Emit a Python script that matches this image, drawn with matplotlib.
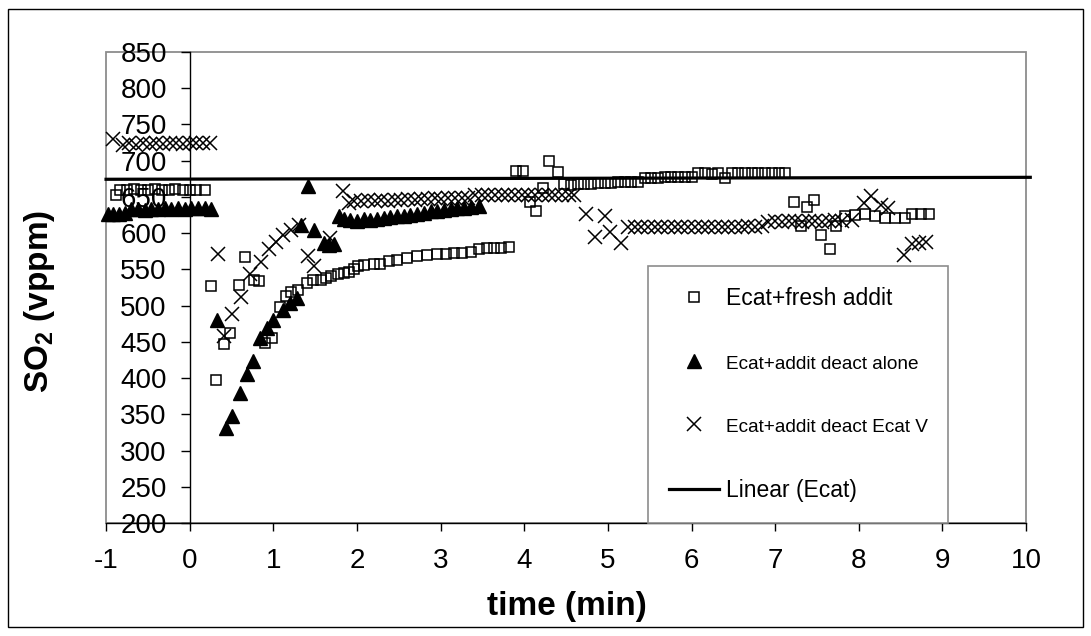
import matplotlib
matplotlib.use("Agg")
import matplotlib.pyplot as plt
from matplotlib.patches import Rectangle

plt.rcParams['font.family'] = ['Liberation Sans', 'DejaVu Sans']
plt.rcParams['mathtext.fontset'] = 'custom'
plt.rcParams['mathtext.rm'] = 'Liberation Sans'
plt.rcParams['mathtext.bf'] = 'Liberation Sans:bold'

# Ecat + fresh additive (open squares)
fresh_t = [-0.88, -0.83, -0.75, -0.67, -0.58, -0.50, -0.42, -0.33, -0.25, -0.17, -0.08, 0.00, 0.08, 0.18,
           0.25, 0.32, 0.41, 0.48, 0.59, 0.66, 0.77, 0.83, 0.90, 0.99, 1.08, 1.15, 1.21, 1.29, 1.40,
           1.47, 1.57, 1.63, 1.69, 1.77, 1.85, 1.91, 1.97, 2.01, 2.09, 2.20, 2.28, 2.38, 2.48, 2.60,
           2.72, 2.84, 2.96, 3.06, 3.16, 3.26, 3.36, 3.46, 3.56, 3.64, 3.72, 3.82,
           3.90, 3.99, 4.07, 4.14, 4.22, 4.30, 4.40, 4.48, 4.56, 4.64, 4.72, 4.80, 4.88, 4.96, 5.04,
           5.12, 5.20, 5.28, 5.36, 5.44, 5.52, 5.60, 5.68, 5.76, 5.84, 5.92, 6.00, 6.08, 6.16, 6.24,
           6.32, 6.40, 6.48, 6.56, 6.64, 6.72, 6.80, 6.88, 6.96, 7.04, 7.12,
           7.23, 7.31, 7.38, 7.47, 7.55, 7.65, 7.73, 7.83, 7.95, 8.07, 8.19, 8.31, 8.43, 8.55,
           8.64, 8.74, 8.84]
fresh_so2 = [652, 660, 660, 661, 660, 660, 661, 660, 660, 661, 660, 660, 660, 660,
             527, 398, 447, 462, 529, 567, 535, 534, 449, 455, 498, 513, 519, 522, 531,
             535, 535, 538, 541, 544, 545, 547, 550, 554, 556, 557, 558, 561, 563, 565,
             568, 570, 571, 571, 572, 573, 574, 578, 579, 579, 579, 581,
             686, 686, 643, 630, 662, 700, 684, 668, 667, 668, 668, 668, 669, 669, 669,
             670, 670, 671, 671, 676, 676, 676, 677, 677, 678, 677, 678, 683, 683, 682,
             683, 676, 683, 683, 683, 683, 683, 683, 683, 683, 683,
             643, 610, 636, 646, 598, 578, 610, 623, 625, 627, 623, 621, 621, 621,
             627, 627, 627]

# Ecat + deactivated additive alone (filled triangles)
alone_t = [-0.98, -0.92, -0.85, -0.77, -0.70, -0.62, -0.54, -0.46, -0.38, -0.30, -0.22, -0.14, -0.06,
           0.02, 0.10, 0.18, 0.25,
           0.33, 0.43, 0.51, 0.60, 0.69, 0.76, 0.84, 0.93, 1.00, 1.11, 1.20, 1.28, 1.33, 1.41, 1.49,
           1.61, 1.67, 1.72, 1.78, 1.85, 1.92, 2.00, 2.08, 2.16, 2.24, 2.32, 2.40, 2.48, 2.56, 2.64,
           2.72, 2.80, 2.88, 2.96, 3.04, 3.12, 3.20, 3.28, 3.36, 3.46]
alone_so2 = [626, 627, 626, 628, 633, 633, 632, 633, 633, 634, 633, 634, 633,
             634, 635, 634, 633,
             480, 331, 347, 379, 406, 423, 455, 469, 480, 494, 503, 510, 611, 665, 604,
             586, 584, 585, 624, 620, 618, 617, 619, 618, 620, 621, 622, 623, 623, 625,
             627, 628, 630, 631, 632, 633, 634, 635, 636, 638]

# Ecat + deactivated additive, Ecat V (crosses)
ecatv_t = [-0.92, -0.80, -0.72, -0.64, -0.56, -0.48, -0.40, -0.32, -0.24, -0.16, -0.08, 0.00, 0.08,
           0.16, 0.24,
           0.34, 0.41, 0.50, 0.61, 0.72, 0.85, 0.95, 1.03, 1.12, 1.21, 1.31, 1.41, 1.49, 1.68, 1.83,
           1.90, 1.97, 2.05, 2.13, 2.21, 2.29, 2.37, 2.45, 2.53, 2.61, 2.69, 2.77, 2.85, 2.93, 3.01,
           3.09, 3.17, 3.25, 3.33, 3.41, 3.49, 3.57, 3.65, 3.73, 3.81, 3.89, 3.97, 4.05, 4.13, 4.21,
           4.29, 4.37, 4.45, 4.53, 4.60,
           4.74, 4.84, 4.96, 5.02, 5.16, 5.24, 5.32, 5.40, 5.48, 5.56, 5.64, 5.72, 5.80, 5.88, 5.96,
           6.04, 6.12, 6.20, 6.28, 6.36, 6.44, 6.52, 6.60, 6.68, 6.76, 6.84, 6.92, 7.00, 7.08, 7.16,
           7.24, 7.32, 7.40, 7.48, 7.56, 7.64, 7.72, 7.80, 7.92,
           8.06, 8.15, 8.27, 8.35, 8.54, 8.64, 8.72, 8.80]
ecatv_so2 = [730, 721, 724, 722, 724, 723, 724, 723, 724, 724, 723, 724, 724,
             724, 724,
             571, 458, 488, 512, 544, 560, 578, 588, 598, 605, 611, 569, 554, 593, 658,
             641, 644, 645, 646, 645, 646, 645, 646, 646, 647, 646, 647, 647, 648, 647,
             648, 648, 649, 649, 652, 653, 652, 653, 652, 653, 652, 653, 652, 653, 652,
             653, 652, 653, 652, 653,
             627, 595, 623, 602, 587, 609, 609, 608, 609, 609, 608, 609, 609, 609, 608,
             609, 609, 609, 608, 609, 609, 609, 609, 610, 609, 610, 616, 617, 616, 617,
             617, 616, 617, 617, 616, 617, 618, 617, 618,
             641, 651, 639, 634, 570, 585, 587, 588]

# linear trend of Ecat baseline
trend_t = [-1, 10.05]
trend_so2 = [674.3, 677.0]

x_ticks = list(range(-1, 11))
y_ticks = list(range(200, 851, 50))

legend_labels = ['Ecat+fresh addit', 'Ecat+addit deact alone', 'Ecat+addit deact Ecat V', 'Linear (Ecat)']
legend_sizes = [16.5, 13.7, 13.7, 16.5]

fig = plt.figure(figsize=(10.91, 6.36), dpi=100)
ax = fig.add_axes([0.0972, 0.1777, 0.8433, 0.7406])

sq, = ax.plot(fresh_t, fresh_so2, ls='none', marker='s', ms=7, mfc='none', mec='black', mew=1.1,
              clip_on=False, zorder=3)
tri, = ax.plot(alone_t, alone_so2, ls='none', marker='^', ms=9.5, mfc='black', mec='black',
               clip_on=False, zorder=3)
crs, = ax.plot(ecatv_t, ecatv_so2, ls='none', marker='x', ms=9.5, mec='black', mew=1.1,
               clip_on=False, zorder=3)
lin, = ax.plot(trend_t, trend_so2, color='black', lw=2.3, zorder=4, clip_on=False)

ax.set_xlim(-1, 10)
ax.set_ylim(200, 850)
ax.set_xticks(x_ticks)
ax.set_yticks(y_ticks)
ax.set_xticklabels([str(v) for v in x_ticks])
ax.set_yticklabels([str(v) for v in y_ticks])

# Excel-like axes: y axis crosses at x=0, grey plot-area frame
ax.spines['left'].set_position(('data', 0))
ax.spines['top'].set_visible(False)
ax.spines['right'].set_visible(False)
for s in ['left', 'bottom']:
    ax.spines[s].set_color('black')
    ax.spines[s].set_linewidth(1.0)
ax.add_patch(Rectangle((0, 0), 1, 1, transform=ax.transAxes, fill=False,
                       edgecolor='#8c8c8c', lw=1.3, zorder=0.5, clip_on=False))
ax.tick_params(axis='y', direction='out', length=6.5, width=1, pad=10, labelsize=20)
ax.tick_params(axis='x', direction='out', length=6, width=1, pad=12, labelsize=20)

fig.text(567 / 1091, 1 - 607 / 636, 'time (min)', ha='center', va='center',
         fontsize=24, fontweight='bold')
fig.text(40 / 1091, 1 - 301 / 636, r'SO$_\mathbf{2}$ (vppm)', ha='center', va='center',
         rotation=90, fontsize=24, fontweight='bold')

leg = ax.legend([sq, tri, crs, lin], legend_labels, loc='lower left', bbox_to_anchor=(0.589, 0.0),
                borderaxespad=0, fancybox=False, edgecolor='#8c8c8c', framealpha=1,
                fontsize=16.5, handlelength=2.2, handletextpad=0.3, labelspacing=1.88, borderpad=0.9)
leg.get_frame().set_linewidth(1.2)
for txt, size in zip(leg.get_texts(), legend_sizes):
    txt.set_fontsize(size)

# outer chart border
fig.patches.append(Rectangle((8 / 1091, 9 / 636), 1075 / 1091, 618 / 636, transform=fig.transFigure,
                             fill=False, edgecolor='black', lw=1))

fig.savefig('out.png', dpi=100)
